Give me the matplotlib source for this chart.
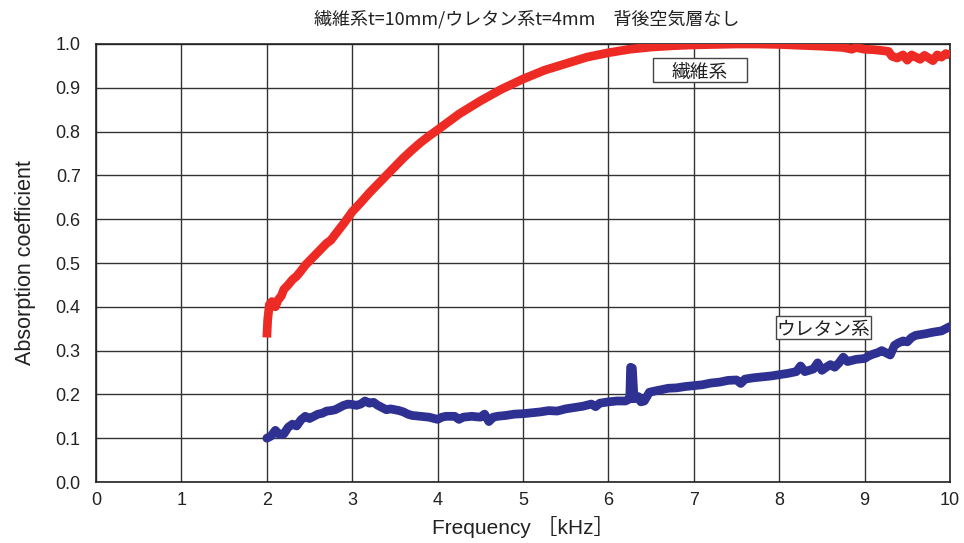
import matplotlib
matplotlib.use("Agg")
import matplotlib.pyplot as plt
from matplotlib.patches import Rectangle

plt.rcParams['font.family'] = ['Liberation Sans', 'Noto Sans CJK JP', 'DejaVu Sans']

title = "繊維系t=10mm/ウレタン系t=4mm　背後空気層なし"
xlabel = "Frequency ［kHz］"
ylabel = "Absorption coefficient"
xticks = [0, 1, 2, 3, 4, 5, 6, 7, 8, 9, 10]
yticks = [0.0, 0.1, 0.2, 0.3, 0.4, 0.5, 0.6, 0.7, 0.8, 0.9, 1.0]

fiber_label = "繊維系"
fiber_x = [2.00, 2.01, 2.03, 2.06, 2.10, 2.13, 2.17, 2.20, 2.25, 2.30, 2.35, 2.40, 2.45,
           2.50, 2.55, 2.60, 2.65, 2.70, 2.75, 2.80, 2.90, 3.00, 3.10, 3.20, 3.30, 3.40,
           3.50, 3.60, 3.70, 3.80, 3.90, 4.00, 4.25, 4.50, 4.75, 5.00, 5.25, 5.50, 5.75,
           6.00, 6.25, 6.50, 6.75, 7.00, 7.25, 7.50, 7.75, 8.00, 8.25, 8.50, 8.75, 8.85,
           8.90, 9.00, 9.10, 9.20, 9.28, 9.32, 9.38, 9.45, 9.50, 9.55, 9.60, 9.65, 9.70,
           9.75, 9.80, 9.85, 9.90, 9.95, 10.00]
fiber_y = [0.330, 0.370, 0.405, 0.412, 0.400, 0.415, 0.425, 0.440, 0.450, 0.462, 0.470, 0.482, 0.495,
           0.505, 0.515, 0.525, 0.535, 0.545, 0.552, 0.565, 0.590, 0.617, 0.638, 0.660, 0.680, 0.700,
           0.720, 0.740, 0.758, 0.775, 0.790, 0.804, 0.840, 0.870, 0.897, 0.920, 0.940, 0.955, 0.970,
           0.980, 0.988, 0.993, 0.996, 0.998, 0.999, 1.000, 1.000, 0.999, 0.997, 0.995, 0.992, 0.988,
           0.992, 0.988, 0.987, 0.985, 0.983, 0.972, 0.968, 0.975, 0.963, 0.975, 0.970, 0.965, 0.974,
           0.968, 0.962, 0.975, 0.970, 0.978, 0.975]

urethane_label = "ウレタン系"
urethane_x = [2.00, 2.05, 2.10, 2.15, 2.20, 2.25, 2.30, 2.35, 2.40, 2.45, 2.50, 2.55, 2.60,
              2.65, 2.70, 2.75, 2.80, 2.85, 2.90, 2.95, 3.00, 3.05, 3.10, 3.15, 3.20, 3.25,
              3.30, 3.35, 3.40, 3.45, 3.50, 3.55, 3.60, 3.65, 3.70, 3.80, 3.90, 4.00, 4.05,
              4.10, 4.20, 4.25, 4.30, 4.40, 4.50, 4.55, 4.60, 4.65, 4.70, 4.80, 4.90, 5.00,
              5.10, 5.20, 5.30, 5.40, 5.50, 5.60, 5.70, 5.80, 5.85, 5.90, 6.00, 6.10, 6.20,
              6.25, 6.26, 6.28, 6.30, 6.35, 6.38, 6.42, 6.48, 6.55, 6.60, 6.70, 6.80, 6.90,
              7.00, 7.10, 7.20, 7.30, 7.40, 7.50, 7.55, 7.60, 7.70, 7.80, 7.90, 8.00, 8.10,
              8.20, 8.25, 8.30, 8.40, 8.45, 8.50, 8.55, 8.60, 8.65, 8.70, 8.75, 8.80, 8.90,
              9.00, 9.05, 9.10, 9.15, 9.20, 9.30, 9.35, 9.40, 9.45, 9.50, 9.55, 9.60, 9.70,
              9.80, 9.90, 10.00]
urethane_y = [0.100, 0.105, 0.118, 0.108, 0.110, 0.125, 0.132, 0.128, 0.142, 0.150, 0.145, 0.150, 0.155,
              0.157, 0.162, 0.163, 0.165, 0.170, 0.175, 0.178, 0.177, 0.175, 0.178, 0.185, 0.180, 0.182,
              0.175, 0.170, 0.165, 0.167, 0.165, 0.163, 0.160, 0.155, 0.152, 0.150, 0.148, 0.143, 0.148,
              0.150, 0.150, 0.143, 0.148, 0.150, 0.148, 0.155, 0.138, 0.148, 0.150, 0.152, 0.155, 0.156,
              0.158, 0.160, 0.163, 0.162, 0.167, 0.170, 0.173, 0.178, 0.172, 0.180, 0.183, 0.185, 0.185,
              0.190, 0.262, 0.260, 0.190, 0.195, 0.183, 0.185, 0.205, 0.208, 0.210, 0.214, 0.215, 0.218,
              0.220, 0.222, 0.226, 0.228, 0.232, 0.233, 0.225, 0.235, 0.238, 0.240, 0.242, 0.245, 0.248,
              0.252, 0.265, 0.252, 0.258, 0.272, 0.255, 0.262, 0.268, 0.262, 0.272, 0.285, 0.275, 0.280,
              0.282, 0.288, 0.292, 0.295, 0.300, 0.290, 0.312, 0.318, 0.322, 0.320, 0.330, 0.335, 0.338,
              0.342, 0.345, 0.355]

red = "#EE2A24"
blue = "#2E3192"

fig = plt.figure(figsize=(9.64, 5.43), dpi=100)
ax = fig.add_axes([0.0996, 0.1123, 0.8859, 0.8067])

ax.plot(fiber_x, fiber_y, color=red, lw=6.3, solid_capstyle='butt', solid_joinstyle='round', zorder=3)
ax.plot(urethane_x, urethane_y, color=blue, lw=6.3, solid_capstyle='round', solid_joinstyle='round', zorder=3)

ax.set_xlim(0, 10)
ax.set_ylim(0, 1.0)
ax.set_xticks(xticks)
ax.set_yticks(yticks)
ax.set_xticklabels([str(t) for t in xticks])
ax.set_yticklabels([f"{t:.1f}" for t in yticks])
ax.tick_params(length=0, labelsize=13, colors='#222222', pad=11)
ax.tick_params(axis='x', pad=7)
ax.grid(True, color='#333333', lw=1.0)
ax.set_axisbelow(True)
for s in ax.spines.values():
    s.set_color('#222222')
    s.set_linewidth(1.2)

ax.set_xlabel(xlabel, fontsize=15, color='#222222', labelpad=5)
ax.set_ylabel(ylabel, fontsize=15.5, color='#222222', labelpad=14)
fig.text(0.546, 0.965, title, ha='center', va='center', fontsize=13, color='#222222',
         family=['Noto Sans CJK JP', 'DejaVu Sans'])

ax.add_patch(Rectangle((6.527, 0.913), 1.09, 0.055, fc='white', ec='#444444', lw=1.0, zorder=4))
ax.text(7.07, 0.936, fiber_label, ha='center', va='center', fontsize=13.5, color='#222222',
        family=['Noto Sans CJK JP'], zorder=5)
ax.add_patch(Rectangle((7.968, 0.326), 1.102, 0.054, fc='white', ec='#444444', lw=1.0, zorder=4))
ax.text(8.52, 0.349, urethane_label, ha='center', va='center', fontsize=13.5, color='#222222',
        family=['Noto Sans CJK JP'], zorder=5)

fig.savefig("out.png", dpi=100)
